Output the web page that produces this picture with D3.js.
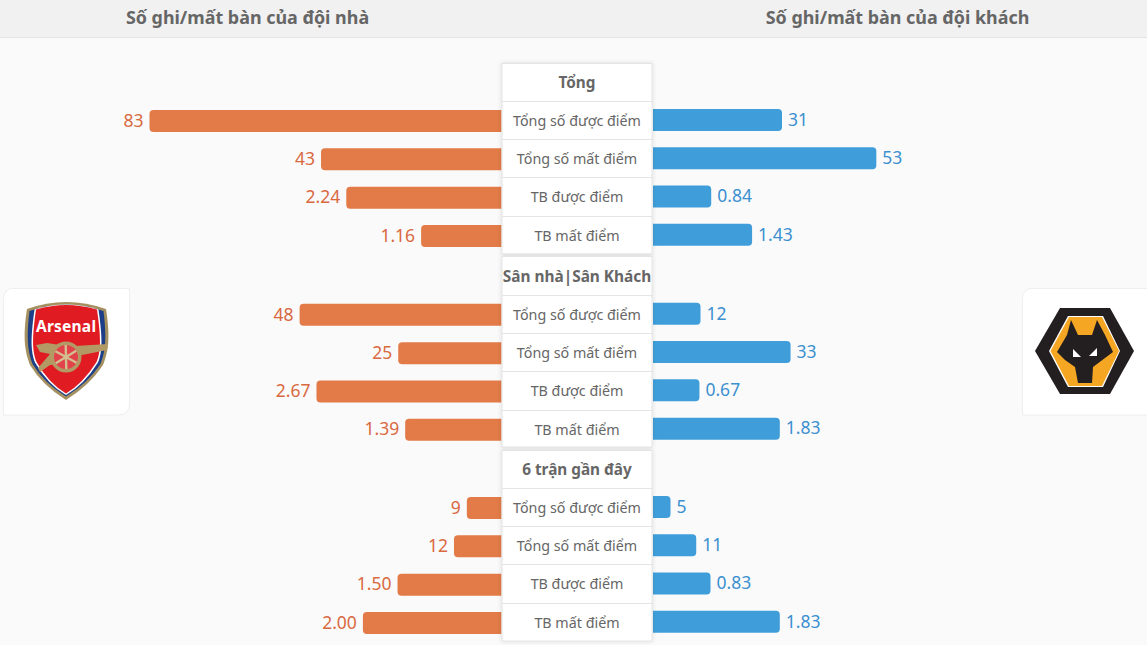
<!DOCTYPE html>
<html><head><meta charset="utf-8">
<script src="https://cdn.jsdelivr.net/npm/d3@7"></script>
<style>html,body{margin:0;padding:0;background:#fafafa;overflow:hidden}svg{display:block}text{font-family:"Noto Sans",sans-serif}</style>
</head><body><svg id="c" width="1147" height="645"></svg>
<script>
const headers=["Số ghi/mất bàn của đội nhà","Số ghi/mất bàn của đội khách"];
const groups=["Tổng","Sân nhà|Sân Khách","6 trận gần đây"];
const metrics=["Tổng số được điểm","Tổng số mất điểm","TB được điểm","TB mất điểm"];
const homeValues=[["83","43","2.24","1.16"],["48","25","2.67","1.39"],["9","12","1.50","2.00"]];
const awayValues=[["31","53","0.84","1.43"],["12","33","0.67","1.83"],["5","11","0.83","1.83"]];

const svg=d3.select("#c");
const groupTop=d3.scaleLinear().domain([0,1,2]).range([63,256.8,450]);
const rowStep=38.3;
const count=d3.scaleLinear().domain([5,83]).range([17.5,352]);
const avg=d3.scaleLinear().domain([0,1]).range([0,69.3]);
const w=(v,m)=>m<2?count(+v):avg(+v);
const L=501.5,R=653,TL=502,TW=150;

svg.append("rect").attr("width",1147).attr("height",37).attr("fill","#f1f1f1");
svg.append("line").attr("x1",0).attr("x2",1147).attr("y1",37.5).attr("y2",37.5).attr("stroke","#e4e4e4");
svg.selectAll(".hd").data(headers).join("text").attr("x",(d,i)=>i?897.5:247.5).attr("y",18).attr("dy","0.35em")
 .attr("text-anchor","middle").attr("font-size",17.9).attr("font-weight",700).attr("fill","#666").text(d=>d);

const rows=[];
groups.forEach((g,gi)=>metrics.forEach((m,mi)=>rows.push({gi,mi,m,h:homeValues[gi][mi],a:awayValues[gi][mi],k:mi+1})));
const bh=22;
const cy=(gi,k)=>groupTop(gi)+(k+.5)*rowStep;
const rpath=(x0,x1,y0,y1,r,left)=>{const p=d3.path();
 if(left){p.moveTo(x1,y0);p.lineTo(x0+r,y0);p.arcTo(x0,y0,x0,y0+r,r);p.lineTo(x0,y1-r);p.arcTo(x0,y1,x0+r,y1,r);p.lineTo(x1,y1);}
 else{p.moveTo(x0,y0);p.lineTo(x1-r,y0);p.arcTo(x1,y0,x1,y0+r,r);p.lineTo(x1,y1-r);p.arcTo(x1,y1,x1-r,y1,r);p.lineTo(x0,y1);}
 p.closePath();return p.toString();};
svg.selectAll(".hb").data(rows).join("path").attr("fill","#e27b47")
 .attr("d",d=>rpath(L-w(d.h,d.mi),L,cy(d.gi,d.k)+.6-bh/2,cy(d.gi,d.k)+.6+bh/2,4,true));
svg.selectAll(".ab").data(rows).join("path").attr("fill","#3f9eda")
 .attr("d",d=>rpath(R,R+w(d.a,d.mi),cy(d.gi,d.k)-.5-bh/2,cy(d.gi,d.k)-.5+bh/2,4,false));
svg.selectAll(".hl").data(rows).join("text").attr("x",d=>L-w(d.h,d.mi)-6).attr("y",d=>cy(d.gi,d.k)+.2).attr("dy","0.35em")
 .attr("text-anchor","end").attr("font-size",17.5).attr("fill","#d9693f").text(d=>d.h);
svg.selectAll(".al").data(rows).join("text").attr("x",d=>R+w(d.a,d.mi)+6).attr("y",d=>cy(d.gi,d.k)-.8).attr("dy","0.35em")
 .attr("font-size",17.5).attr("fill","#3c90d0").text(d=>d.a);

// centre table
const defs=svg.append("defs");
const f=defs.append("filter").attr("id","s").attr("x","-10%").attr("y","-10%").attr("width","120%").attr("height","120%");
f.append("feDropShadow").attr("dx",0).attr("dy",0).attr("stdDeviation",2).attr("flood-color","#000").attr("flood-opacity",.12);
groups.forEach((g,gi)=>{
 const top=Math.floor(groupTop(gi))+.5;
 svg.append("rect").attr("x",TL).attr("y",top).attr("width",TW).attr("height",5*rowStep-1).attr("fill","#fff").attr("stroke","#e4e4e4").attr("filter","url(#s)");
 svg.selectAll(null).data(d3.range(1,5)).join("line").attr("x1",TL).attr("x2",TL+TW)
  .attr("y1",k=>Math.floor(groupTop(gi)+k*rowStep)+.5).attr("y2",k=>Math.floor(groupTop(gi)+k*rowStep)+.5).attr("stroke","#e4e4e4");
 svg.append("text").attr("x",TL+TW/2).attr("y",cy(gi,0)+.4).attr("dy","0.35em").attr("text-anchor","middle")
  .attr("font-size",gi==1?15.4:15.3).attr("font-weight",700).attr("fill","#666").text(g);
});
svg.selectAll(".m").data(rows).join("text").attr("x",TL+TW/2).attr("y",d=>cy(d.gi,d.k)+.4).attr("dy","0.35em").attr("text-anchor","middle")
 .attr("font-size",14.3).attr("fill","#666").text(d=>d.m);

// club logos
svg.append("path").attr("d","M13.5,288.5H129.5V405a10,10 0 0 1 -10,10H3.5V298a10,10 0 0 1 10,-10Z").attr("fill","#fff").attr("stroke","#eee");
svg.append("path").attr("d","M1032,288.5H1147.5V415H1022.5V298a10,10 0 0 1 10,-10Z").attr("fill","#fff").attr("stroke","#eee");
const a=svg.append("g");
a.append("path").attr("d","M27,309Q66,295 106,309C110,335 109,350 103,365Q90,385 66,400Q42,385 30,365C24,350 23,335 27,309Z").attr("fill","#a5905f");
a.append("path").attr("d","M29.5,311Q66,298 103.5,311C106.5,335 106,350 100.5,364Q88,383 66,396.5Q44,383 32.5,364C27,350 26.5,335 29.5,311Z").attr("fill","#1d3f87");
a.append("path").attr("d","M34.5,309.5Q66,299.5 98.5,309.5C102,335 103,350 98,362.5Q84,385 66,395Q48,385 35,362.5C30,350 31,335 34.5,309.5Z").attr("fill","#fff");
a.append("path").attr("d","M36,309.5Q66,300.5 97,309.5C100.5,335 101.5,350 96.5,362Q83,383.5 66,393.5Q49,383.5 36.5,362C31.5,350 32.5,335 36,309.5Z").attr("fill","#e11b22");
a.append("text").attr("x",66).attr("y",332).attr("text-anchor","middle").attr("font-size",15.5).attr("font-weight",700).attr("fill","#fff").attr("textLength",60).text("Arsenal");
a.append("path").attr("d","M36,345L47,343L60,345L75,346L108,344L107,350L82,355L65,364L50,365L40,372L38,368L50,354L40,352Z").attr("fill","#b39a64");
a.append("circle").attr("cx",66).attr("cy",357).attr("r",15.5).attr("fill","#b39a64");
a.append("circle").attr("cx",66).attr("cy",357).attr("r",12).attr("fill","#e2434a");
d3.range(0,6).forEach(k=>{const t=k*Math.PI/3+.5;
 a.append("line").attr("x1",66).attr("y1",357).attr("x2",66+12*Math.cos(t)).attr("y2",357+12*Math.sin(t)).attr("stroke","#d3bf90").attr("stroke-width",2.4);});
const b=svg.append("g");
b.append("path").attr("d","M1035,351L1060,308H1110L1134,351L1110,394H1060Z").attr("fill","#231f20");
b.append("path").attr("d","M1049,351L1068,316H1103L1120,351L1103,387H1068Z").attr("fill","#fff");
b.append("path").attr("d","M1050.5,351L1069,317H1102L1119,351L1102,386H1069Z").attr("fill","#f5a623");
b.append("path").attr("d","M1071,320L1078,335H1092L1097,320L1105,335L1113,352L1105,358L1093,367L1092,383H1078L1075,367L1065,360L1057,352L1067,335Z").attr("fill","#231f20");
b.append("path").attr("d","M1073,349L1081,357H1073Z M1097,348L1089,356H1097Z").attr("fill","#fff");
</script></body></html>
